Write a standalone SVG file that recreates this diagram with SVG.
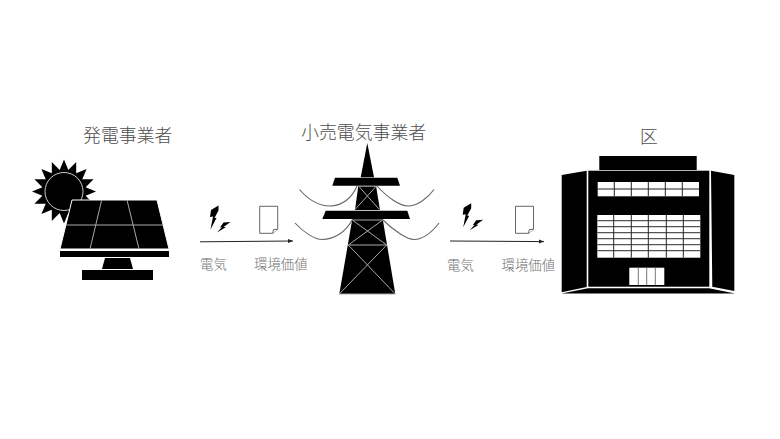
<svg xmlns="http://www.w3.org/2000/svg" xmlns:xlink="http://www.w3.org/1999/xlink" width="780" height="439" viewBox="0 0 780 439">
<style>
.t{font-family:"Noto Sans CJK JP","Noto Sans",sans-serif;fill:#4d4d4d;font-weight:300}
.title{font-size:17.9px}
.small{font-size:13.4px;fill:#707070}
.gl{stroke:#a8a8a8;stroke-width:1;fill:none}
.cable{stroke:#666;stroke-width:1.1;fill:none}
.grid{stroke:#222;stroke-width:1;fill:none}
.band{stroke:#555;stroke-width:1.300;fill:none}
.door{stroke:#777;stroke-width:1;fill:none}
.doc{fill:#fff;stroke:#555;stroke-width:.9}
.flow{stroke:#222;stroke-width:1;fill:none;marker-end:url(#arr)}
</style>
<defs>
<marker id="arr" markerWidth="6" markerHeight="6" refX="5" refY="2.5" orient="auto" markerUnits="userSpaceOnUse"><path d="M0 0.5L5 2.5L0 4.5Z" fill="#222"/></marker>
<g id="bolt"><path d="M218.500 205.500L211 210L210 217L213 216.500L210.500 229.500L216.500 218L214.500 218L218.500 210.500Z M230.500 222L223.500 222.500L220 227.500L222 227L217 232.500L226 227L223.500 227Z" fill="#000"/></g>
<g id="sheet"><path class="doc" d="M259.700 206.300H277.700V229.300L272.700 233.300H259.700Z"/><path class="doc" d="M272.700 233.300L273.500 229.500L277.700 229.300"/></g>
</defs>
<rect width="780" height="439" fill="#fff"/>
<g id="connectors">
<path class="flow" d="M200 241.800L293 241"/>
<path class="flow" d="M450 241L544 241.600"/>
</g>
<g id="generator">
<polygon transform="translate(64 191.500)" points="32,0 21.600,4.300 29.600,12.200 18.300,12.200 22.600,22.600 12.200,18.300 12.200,29.600 4.300,21.600 0,32 -4.300,21.600 -12.200,29.600 -12.200,18.300 -22.600,22.600 -18.300,12.200 -29.600,12.200 -21.600,4.300 -32,0 -21.600,-4.300 -29.600,-12.200 -18.300,-12.200 -22.600,-22.600 -12.200,-18.300 -12.200,-29.600 -4.300,-21.600 0,-32 4.300,-21.600 12.200,-29.600 12.200,-18.300 22.600,-22.600 18.300,-12.200 29.600,-12.200 21.600,-4.300"/>
<circle cx="64" cy="191.500" r="19" fill="#000" stroke="#ccc" stroke-width="1"/>
<polygon points="72,200 157,200 169,249 60,249" fill="#000" stroke="#fff" stroke-width="1"/>
<path class="gl" d="M66 225H163M101.700 200L90 249M127 200L139 249"/>
<rect x="60" y="251" width="109" height="6"/>
<polygon points="105,258 130,258 133,269 102,269"/>
<rect x="82" y="270" width="71" height="10"/>
<text class="t title" x="83" y="142">発電事業者</text>
</g>
<g id="flow-1">
<use xlink:href="#bolt" href="#bolt"/>
<use xlink:href="#sheet" href="#sheet"/>
<text class="t small" x="200" y="269">電気</text>
<text class="t small" x="254" y="269">環境価値</text>
</g>
<g id="retailer">
<path class="cable" d="M299.500 189.500C312 204 322 206 330 206C342 206 352 198 357 186"/>
<path class="cable" d="M377 186C388 198 400 206 408 206C417 206 428 198 434 189.500"/>
<path class="cable" d="M295 223C305 234 316 239.500 322 239.500C334 239.500 346 232 352 220"/>
<path class="cable" d="M383 220C395 232 408 239.500 414 239.500C424 239.500 432 232 439 223"/>
<polygon points="367.300,143 374,177.300 360.700,177.300"/>
<polygon points="335,177.700 397.300,177.700 400,185.700 332.300,185.700"/>
<polygon points="358.300,185.700 376,185.700 380,210 355,210"/>
<polygon points="325.700,210.700 407.300,210.700 410,219 322.300,219"/>
<polygon points="352.300,219 382.700,219 395.300,294 339.300,294"/>
<path class="gl" d="M358.300 186.300H376M359 186.500L379.300 209.500M376 186.500L355 209.500M352.300 220H382.700M352.300 220L386.700 245M382.700 220L348.300 245M348.300 245H386.700M348.300 245L395.300 294M386.700 245L339.300 294M339.300 294H395.300"/>
<text class="t title" x="301" y="139">小売電気事業者</text>
</g>
<g id="flow-2">
<use xlink:href="#bolt" href="#bolt" transform="translate(252.700 -2.300)"/>
<use xlink:href="#sheet" href="#sheet" transform="translate(255.800 0)"/>
<text class="t small" x="447" y="270">電気</text>
<text class="t small" x="501.500" y="270">環境価値</text>
</g>
<g id="ward">
<rect x="599.300" y="156" width="97.400" height="14"/>
<rect x="588.300" y="170.700" width="121" height="116"/>
<polygon points="561.700,175 586.700,170.700 586.700,287 561.700,292.300"/>
<polygon points="711,170.700 734.300,175 734.300,291 712.300,286.700"/>
<polygon points="561.700,293.500 588,288.300 709,288.300 735,293.500"/>
<rect x="597.700" y="182" width="101.300" height="14.300" fill="#fff"/>
<path class="grid" d="M597.700 189H699M614.300 182V196.300M631.300 182V196.300M648.300 182V196.300M665.300 182V196.300M682.300 182V196.300"/>
<rect x="597.300" y="215" width="103" height="42.700" fill="#fff"/>
<path class="band" d="M597.300 220.700H700.300M597.300 226.700H700.300M597.300 232.700H700.300M597.300 238.700H700.300M597.300 244.700H700.300M597.300 250.700H700.300"/>
<path class="grid" d="M613.700 215V257.700M631.300 215V257.700M648.300 215V257.700M666.300 215V257.700M683.300 215V257.700"/>
<rect x="629.300" y="267.700" width="35" height="17.300" fill="#fff"/>
<path class="door" d="M638.300 267.700V285M646.700 267.700V285M655.300 267.700V285"/>
<text class="t title" x="640" y="143">区</text>
</g>
</svg>
